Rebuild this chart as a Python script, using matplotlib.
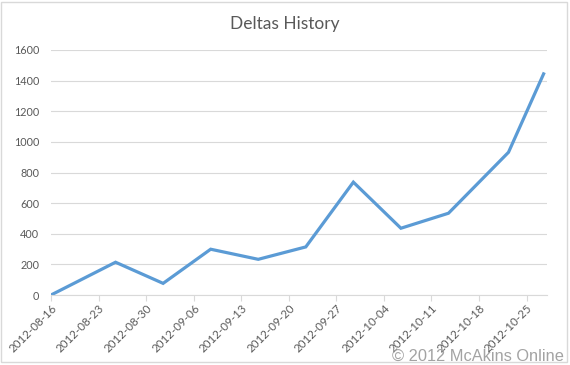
import matplotlib

matplotlib.use("Agg")
import matplotlib.dates as mdates
import matplotlib.pyplot as plt
import pandas as pd
from matplotlib.patches import Rectangle

# values
dates = pd.to_datetime([
    "2012-08-16 00:00", "2012-08-25 12:00", "2012-09-01 12:00", "2012-09-08 12:00",
    "2012-09-15 12:00", "2012-09-22 12:00", "2012-09-29 12:00", "2012-10-06 12:00",
    "2012-10-13 12:00", "2012-10-22 08:00", "2012-10-27 12:00",
])
deltas = [0, 214, 76, 299, 233, 314, 737, 436, 534, 932, 1444]
tick_dates = pd.date_range("2012-08-16", "2012-10-25", freq="7D")
y_ticks = [0, 200, 400, 600, 800, 1000, 1200, 1400, 1600]

text_color = "#595959"
grid_color = "#d9d9d9"
plt.rcParams["font.family"] = ["Lato", "DejaVu Sans"]

fig = plt.figure(figsize=(5.7, 3.65), dpi=100)
ax = fig.add_axes([51 / 570, 1 - 295 / 365, 496 / 570, 245 / 365])

ax.plot(dates, deltas, color="#5b9bd5", linewidth=2.3, solid_joinstyle="miter")

ax.set_xlim(pd.Timestamp("2012-08-16"), pd.Timestamp("2012-10-28"))
ax.set_ylim(0, 1600)
ax.set_yticks(y_ticks)
ax.set_xticks(tick_dates)
ax.xaxis.set_major_formatter(mdates.DateFormatter("%Y-%m-%d"))

ax.grid(axis="y", color=grid_color, linewidth=0.8)
ax.set_axisbelow(True)
for side in ("top", "right", "left"):
    ax.spines[side].set_visible(False)
ax.spines["bottom"].set_color(grid_color)
ax.spines["bottom"].set_linewidth(0.8)

ax.tick_params(axis="y", length=0, pad=8.5, labelsize=7.8, labelcolor=text_color)
ax.tick_params(axis="x", length=4, color=grid_color, width=0.8, pad=1.5,
               labelsize=8.3, labelcolor=text_color)
for label in ax.get_xticklabels():
    label.set_rotation(45)
    label.set_ha("right")
    label.set_rotation_mode("anchor")

fig.text(0.5, 1 - 24 / 365, "Deltas History", ha="center", va="center",
         fontsize=12.5, color=text_color)

fig.text(564 / 570, 1 - 356 / 365, "\u00a9 2012 McAkins Online", ha="right", va="center",
         fontsize=11.8, color="#a3a3a3", family="Liberation Sans")

fig.patches.append(Rectangle((1 / 570, 3 / 365), 566 / 570, 360 / 365, transform=fig.transFigure,
                             fill=False, edgecolor=grid_color, linewidth=1))

fig.savefig("out.png", dpi=100)
